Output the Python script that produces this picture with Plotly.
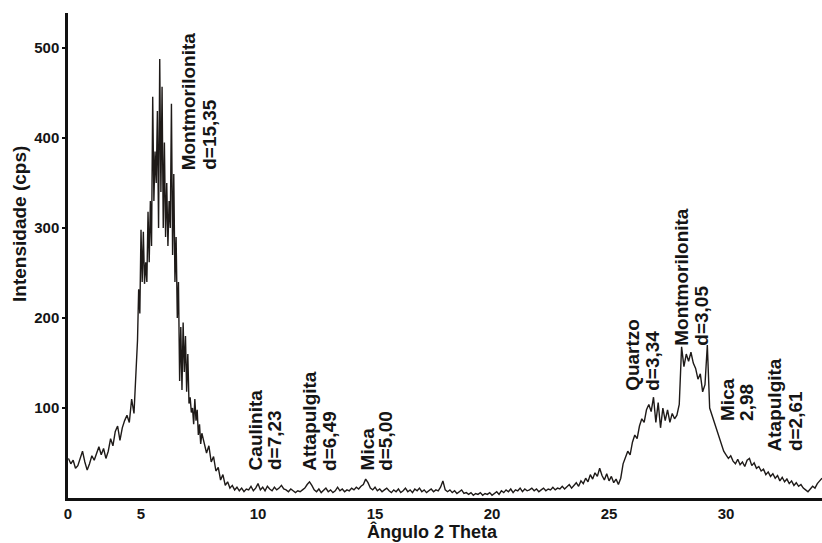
import numpy as np
import plotly.graph_objects as go

# ---- data (2-theta in degrees, counts per second) ----
# low-angle segment: 1.9 .. 4.8 step 0.1
low_start, low_step = 1.9, 0.1
counts_low = [44, 38, 42, 33, 36, 45, 52, 40, 31, 38,
              47, 42, 50, 57, 48, 55, 44, 52, 66, 58,
              74, 80, 64, 78, 86, 92, 84, 110, 94, 150]

# main montmorillonite peak: 4.85 .. 7.60 step 0.05
peak_start, peak_step = 4.85, 0.05
counts_peak = [175, 232, 205,
               298, 240, 296, 238, 262, 240, 318, 262, 330, 280,
               446, 330, 385, 350, 430, 300, 488, 340, 457, 300,
               395, 290, 350, 280, 330, 300, 438, 270, 360, 240,
               290, 200, 240, 130, 190, 120, 195, 140, 180, 118,
               160, 105, 112, 95, 100, 82, 110, 86, 98, 70, 82, 60, 72]

# remainder: 7.7 .. 34.1 step 0.1
high_start, high_step = 7.7, 0.1
counts_high = [62, 50, 58, 40, 46, 30, 34, 20, 26, 14,
               18, 11, 14, 9, 12, 8, 11, 7, 10, 9,
               13, 8, 11, 16, 9, 12, 8, 13, 10, 8,
               12, 9, 11, 14, 10, 9, 7, 10, 8, 6,
               8, 7, 9, 11, 15, 18, 14, 9, 7, 10,
               6, 8, 11, 7, 9, 6, 8, 12, 8, 10,
               7, 9, 8, 11, 9, 12, 10, 13, 15, 21,
               17, 11, 9, 12, 8, 10, 7, 9, 11, 8,
               6, 9, 7, 10, 6, 8, 11, 7, 9, 6,
               10, 8, 11, 7, 9, 6, 8, 10, 7, 9,
               8, 12, 19, 9, 7, 9, 6, 8, 5, 7,
               9, 5, 6, 4, 6, 3, 5, 4, 6, 3,
               5, 4, 6, 3, 5, 7, 4, 8, 6, 9,
               7, 10, 6, 9, 8, 11, 7, 10, 8, 9,
               11, 8, 10, 7, 9, 11, 8, 10, 9, 12,
               9, 11, 10, 13, 10, 12, 15, 11, 14, 17,
               13, 19, 16, 22, 18, 26, 21, 28, 24, 33,
               25, 20, 27, 19, 24, 17, 21, 15, 22, 38,
               45, 52, 48, 62, 70, 66, 80, 88, 84, 98,
               104, 96, 112, 84, 106, 78, 100, 86, 98, 84,
               94, 88, 92, 104, 168, 146, 160, 152, 162, 150,
               144, 132, 138, 118, 126, 170, 100, 92, 84, 74,
               66, 58, 52, 48, 44, 47, 41, 38, 43, 37,
               40, 35, 42, 44, 36, 39, 33, 35, 30, 32,
               26, 29, 24, 27, 22, 25, 19, 23, 18, 21,
               16, 19, 14, 17, 13, 15, 11, 9, 7, 10,
               13, 11, 16, 19, 22]

# axis ticks (the original labels its axis origin "0")
x_tickvals = [1.88, 5, 10, 15, 20, 25, 30]
x_ticktext = ["0", "5", "10", "15", "20", "25", "30"]
y_tickvals = [100, 200, 300, 400, 500]

# peak labels: (line 1, line 2, x of line 1, x of line 2, baseline intensity)
label_line1 = ["Montmorilonita", "Caulinita", "Attapulgita", "Mica",
               "Quartzo", "Montmorilonita", "Mica", "Atapulgita"]
label_line2 = ["d=15,35", "d=7,23", "d=6,49", "d=5,00",
               "d=3,34", "d=3,05", "2,98", "d=2,61"]
label_x1 = [7.01, 9.87, 12.22, 14.66, 26.03, 28.12, 30.09, 32.09]
label_x2 = [7.95, 10.73, 13.08, 15.47, 26.88, 28.97, 30.90, 32.95]
label_y = [362, 29, 28, 28, 117, 167, 83, 50]

# ---- build the series ----
theta = np.concatenate([
    low_start + low_step * np.arange(len(counts_low)),
    peak_start + peak_step * np.arange(len(counts_peak)),
    high_start + high_step * np.arange(len(counts_high)),
])
counts = np.array(counts_low + counts_peak + counts_high, dtype=float)

FONT = "Liberation Sans, Arial, Helvetica, sans-serif"
INK = "#151515"

fig = go.Figure()
fig.add_trace(go.Scatter(
    x=theta, y=counts, mode="lines",
    line=dict(color="#1e1a18", width=1.4),
    hoverinfo="skip", showlegend=False,
))

annotations = []
for t1, t2, x1, x2, yb in zip(label_line1, label_line2, label_x1, label_x2, label_y):
    for txt, xx in ((t1, x1), (t2, x2)):
        annotations.append(dict(
            x=xx, y=yb, xref="x", yref="y", text=txt, showarrow=False,
            textangle=-90, xanchor="center", yanchor="bottom",
            font=dict(family=FONT, size=19, color=INK, weight="bold"),
        ))

annotations.append(dict(
    x=0.484, y=-0.069, xref="paper", yref="paper", text="Ângulo 2 Theta",
    showarrow=False, xanchor="center", yanchor="middle",
    font=dict(family=FONT, size=18, color=INK, weight="bold"),
))
annotations.append(dict(
    x=-0.0637, y=0.565, xref="paper", yref="paper", text="Intensidade (cps)",
    showarrow=False, textangle=-90, xanchor="center", yanchor="middle",
    font=dict(family=FONT, size=19, color=INK, weight="bold"),
))

fig.update_layout(
    width=822, height=543,
    margin=dict(l=68, r=0, t=13, b=45),
    paper_bgcolor="white", plot_bgcolor="white",
    annotations=annotations,
    xaxis=dict(
        range=[1.88, 34.1], showgrid=False, zeroline=False,
        showline=True, linecolor="#111", linewidth=2.5,
        tickmode="array", tickvals=x_tickvals, ticktext=x_ticktext,
        ticks="", tickfont=dict(family=FONT, size=15, color=INK, weight="bold"),
    ),
    yaxis=dict(
        range=[0, 539], showgrid=False, zeroline=False,
        showline=True, linecolor="#111", linewidth=2.5,
        tickmode="array", tickvals=y_tickvals,
        ticks="outside", ticklen=3, tickwidth=1.5, tickcolor="#111",
        tickfont=dict(family=FONT, size=15, color=INK, weight="bold"),
    ),
)

fig.write_html(
    "out.html",
    config={"displayModeBar": False},
    post_script="document.body.style.margin='0';document.body.style.overflow='hidden';",
)
